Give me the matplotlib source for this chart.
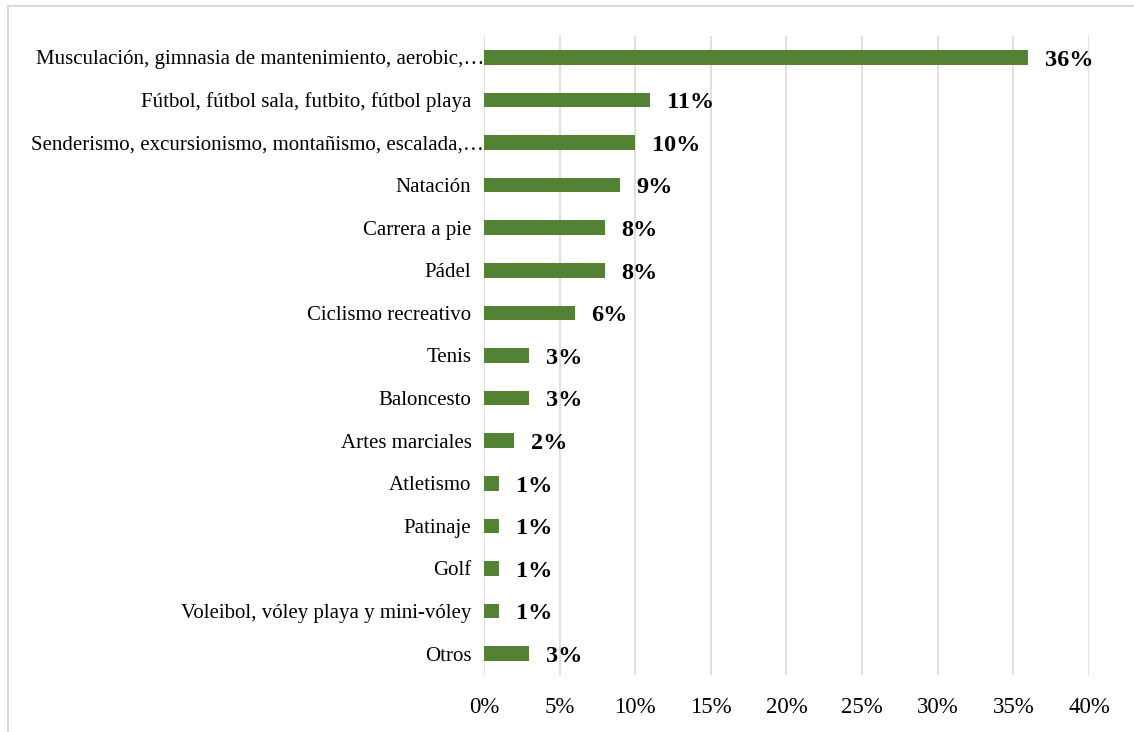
import matplotlib
matplotlib.use('Agg')
import matplotlib.pyplot as plt
import matplotlib.transforms as mtransforms
from matplotlib.lines import Line2D
from matplotlib.ticker import MultipleLocator, FuncFormatter

plt.rcParams['font.family'] = ['Liberation Serif', 'DejaVu Serif']

deportes = ['Musculación, gimnasia de mantenimiento, aerobic,…',
            'Fútbol, fútbol sala, futbito, fútbol playa',
            'Senderismo, excursionismo, montañismo, escalada,…',
            'Natación',
            'Carrera a pie',
            'Pádel',
            'Ciclismo recreativo',
            'Tenis',
            'Baloncesto',
            'Artes marciales',
            'Atletismo',
            'Patinaje',
            'Golf',
            'Voleibol, vóley playa y mini-vóley',
            'Otros']
porcentajes = [36, 11, 10, 9, 8, 8, 6, 3, 3, 2, 1, 1, 1, 1, 3]

verde = '#548235'
gris = '#D9D9D9'

fig = plt.figure(figsize=(11.34, 7.32), dpi=100)
ax = fig.add_axes([0.4268, 0.0779, 0.5335, 0.8729])

pos = list(range(len(deportes)))
ax.barh(pos, porcentajes, height=0.34, color=verde, zorder=3)

for y, v in zip(pos, porcentajes):
    ax.annotate(f'{v}%', xy=(v, y), xytext=(12, -2), textcoords='offset points',
                ha='left', va='center', fontsize=17.5, fontweight='bold', zorder=4)

ax.set_ylim(len(deportes) - 0.5, -0.5)
ax.set_xlim(0, 40)
ax.set_yticks(pos)
ax.set_yticklabels(deportes, fontsize=15)
ax.xaxis.set_major_locator(MultipleLocator(5))
ax.xaxis.set_major_formatter(FuncFormatter(lambda x, p: f'{x:.0f}%'))
ax.tick_params(axis='x', labelsize=16.5, length=0, pad=16)
ax.tick_params(axis='y', length=0, pad=9)
ax.grid(axis='x', color=gris, linewidth=1.2, zorder=0)
for s in ax.spines.values():
    s.set_visible(False)

# las etiquetas recortadas llegan hasta el eje
desplaza = mtransforms.ScaledTranslation(9 / 72, 0, fig.dpi_scale_trans)
for lbl in ax.get_yticklabels():
    if lbl.get_text().endswith('…'):
        lbl.set_transform(lbl.get_transform() + desplaza)

# marco del area del grafico
fig.add_artist(Line2D([8 / 1134, 8 / 1134], [0, 1 - 6 / 732], transform=fig.transFigure,
                      color=gris, linewidth=1.5))
fig.add_artist(Line2D([8 / 1134, 1], [1 - 6 / 732, 1 - 6 / 732], transform=fig.transFigure,
                      color=gris, linewidth=1.5))

plt.savefig('out.png', dpi=100)
